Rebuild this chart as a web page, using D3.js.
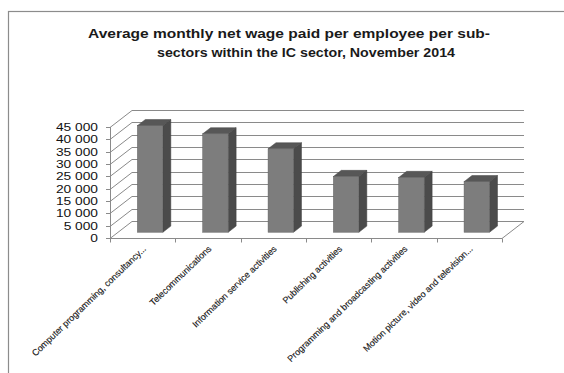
<!DOCTYPE html>
<html>
<head>
<meta charset="utf-8">
<script src="https://cdn.jsdelivr.net/npm/d3@7"></script>
<style>
  html, body { margin: 0; padding: 0; background: #fff; }
  svg { display: block; }
</style>
</head>
<body>
<div id="chart"></div>
<script>
// Sub-sectors of the IC sector and their average monthly net wage
const categories = [
  "Computer programming, consultancy...",
  "Telecommunications",
  "Information service activities",
  "Publishing activities",
  "Programming and broadcasting activities",
  "Motion picture, video and television..."
];
const wages = [43200, 39900, 33800, 22600, 22200, 20500];
const yTicks = [0, 5000, 10000, 15000, 20000, 25000, 30000, 35000, 40000, 45000];
const titleLines = [
  "Average monthly net wage paid per employee per sub-",
  "sectors within the IC sector, November 2014"
];

const W = 564, H = 373;
const svg = d3.select("#chart").append("svg").attr("width", W).attr("height", H);

// outer chart frame
svg.append("rect").attr("x", 8.5).attr("y", 11.5).attr("width", 620).attr("height", 420)
  .attr("fill", "#fff").attr("stroke", "#8c8c8c").attr("stroke-width", 1.2);

// title
const titleFont = "Liberation Sans, Arial, sans-serif";
const titlePos = [{x: 88, y: 38, len: 402}, {x: 157, y: 57, len: 298}];
titleLines.forEach((t, i) => {
  svg.append("text")
    .attr("x", titlePos[i].x).attr("y", titlePos[i].y)
    .attr("textLength", titlePos[i].len).attr("lengthAdjust", "spacingAndGlyphs")
    .attr("font-family", titleFont).attr("font-weight", "bold").attr("font-size", 13.5)
    .attr("fill", "#1a1a1a").text(t);
});

// 3D plot geometry: front plane plus a depth vector
const x0 = 110, x1 = 502;
const depth = {dx: 22, dy: -17};
const x = d3.scaleBand().domain(categories).range([x0, x1]).paddingInner(0).paddingOuter(0);
const y = d3.scaleLinear().domain([0, 45000]).range([238, 127]);

const grid = svg.append("g").attr("stroke", "#8a8a8a").attr("stroke-width", 1).attr("fill", "none");
// back wall gridlines and side wall diagonals
yTicks.forEach(v => {
  const yf = Math.round(y(v)) + 0.5;
  const yb = yf + depth.dy;
  grid.append("line").attr("x1", x0 + depth.dx).attr("y1", yb).attr("x2", x1 + depth.dx).attr("y2", yb);
  grid.append("line").attr("x1", x0).attr("y1", yf).attr("x2", x0 + depth.dx).attr("y2", yb);
  grid.append("line").attr("x1", x0 - 4).attr("y1", yf).attr("x2", x0).attr("y2", yf);
});
// vertical axis line
grid.append("line").attr("x1", x0 + 0.5).attr("y1", y(45000)).attr("x2", x0 + 0.5).attr("y2", y(0));
// floor outline
const fy = Math.round(y(0)) + 0.5;
grid.append("line").attr("x1", x0).attr("y1", fy).attr("x2", x1).attr("y2", fy);
grid.append("line").attr("x1", x1).attr("y1", fy).attr("x2", x1 + depth.dx).attr("y2", fy + depth.dy);
// category tick marks
d3.range(categories.length + 1).forEach(i => {
  const tx = Math.round(x0 + i * x.bandwidth()) + 0.5;
  grid.append("line").attr("x1", tx).attr("y1", fy).attr("x2", tx).attr("y2", fy + 4);
});

// y axis labels
svg.append("g").selectAll("text").data(yTicks).join("text")
  .attr("transform", d => `translate(98,${y(d)}) scale(1.25,1)`)
  .attr("text-anchor", "end").attr("dy", "0.35em")
  .attr("font-family", titleFont).attr("font-size", 11).attr("fill", "#111")
  .text(d => d3.format(",")(d).replace(/,/g, " "));

// bars: boxes placed between depth fractions f0 and f1
const f0 = 0.34, f1 = 0.70;
const barW = x.bandwidth() * 0.39;
const bars = svg.append("g");
categories.forEach((c, i) => {
  const v = wages[i];
  const cx = x(c) + x.bandwidth() / 2 + f0 * depth.dx;
  const xl = cx - barW / 2, xr = cx + barW / 2;
  const yb = y(0) + f0 * depth.dy, yt = y(v) + f0 * depth.dy;
  const ddx = (f1 - f0) * depth.dx, ddy = (f1 - f0) * depth.dy;
  // right side face
  bars.append("path")
    .attr("d", `M${xr},${yt} L${xr + ddx},${yt + ddy} L${xr + ddx},${yb + ddy} L${xr},${yb} Z`)
    .attr("fill", "#4b4b4b").attr("stroke", "#3e3e3e").attr("stroke-width", 0.5);
  // top face
  bars.append("path")
    .attr("d", `M${xl},${yt} L${xl + ddx},${yt + ddy} L${xr + ddx},${yt + ddy} L${xr},${yt} Z`)
    .attr("fill", "#575757").attr("stroke", "#474747").attr("stroke-width", 0.5);
  // front face
  bars.append("rect")
    .attr("x", xl).attr("y", yt).attr("width", barW).attr("height", yb - yt)
    .attr("fill", "#7d7d7d").attr("stroke", "#5e5e5e").attr("stroke-width", 0.5);
});

// category labels, rotated
svg.append("g").selectAll("text").data(categories).join("text")
  .attr("transform", d => `translate(${x(d) + x.bandwidth() / 2 + 4},${fy + 11}) rotate(-44)`)
  .attr("text-anchor", "end")
  .attr("font-family", titleFont).attr("font-size", 9).attr("fill", "#1a1a1a")
  .attr("stroke", "#1a1a1a").attr("stroke-width", 0.15)
  .text(d => d);
</script>
</body>
</html>
